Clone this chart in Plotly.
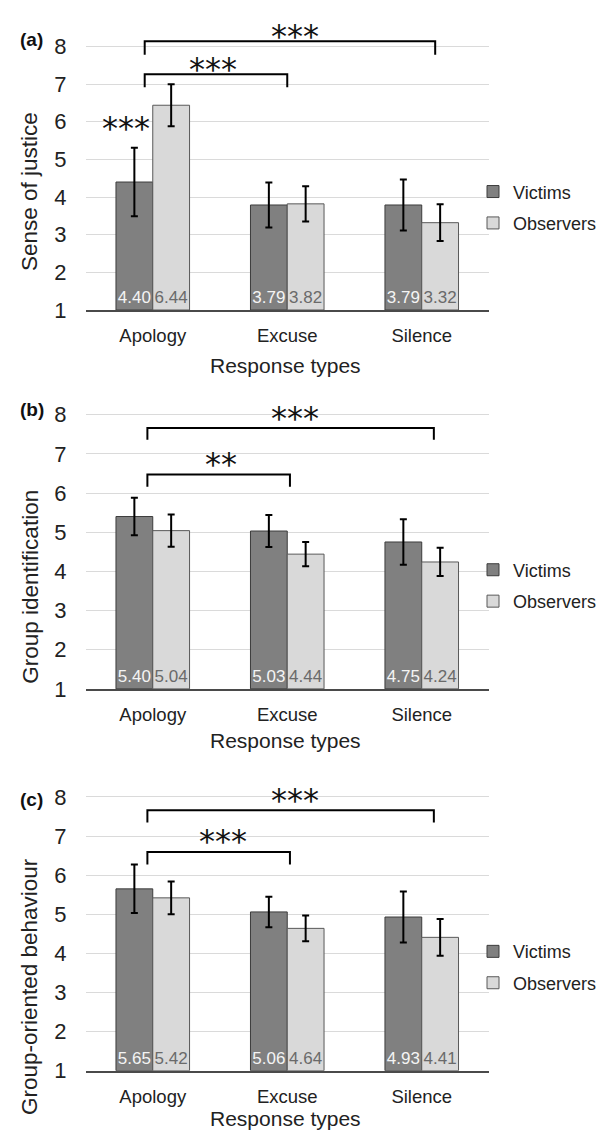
import plotly.graph_objects as go

# ---------------- data ----------------
categories = ["Apology", "Excuse", "Silence"]
groups = ["Victims", "Observers"]

justice_victims = [4.40, 3.79, 3.79]
justice_observers = [6.44, 3.82, 3.32]
justice_victims_err = [0.91, 0.60, 0.68]
justice_observers_err = [0.56, 0.47, 0.49]

ident_victims = [5.40, 5.03, 4.75]
ident_observers = [5.04, 4.44, 4.24]
ident_victims_err = [0.48, 0.41, 0.58]
ident_observers_err = [0.41, 0.31, 0.36]

behav_victims = [5.65, 5.06, 4.93]
behav_observers = [5.42, 4.64, 4.41]
behav_victims_err = [0.62, 0.39, 0.65]
behav_observers_err = [0.42, 0.33, 0.47]

y_titles = ["Sense of justice", "Group identification", "Group-oriented behaviour"]
panel_labels = ["(a)", "(b)", "(c)"]
x_title = "Response types"
y_tick_values = [1, 2, 3, 4, 5, 6, 7, 8]

# significance comparisons per panel: (from category, to category, stars)
sig_a = [("Apology", "Excuse", "***"), ("Apology", "Silence", "***")]
sig_b = [("Apology", "Excuse", "**"), ("Apology", "Silence", "***")]
sig_c = [("Apology", "Excuse", "***"), ("Apology", "Silence", "***")]
# within-category comparison (Victims vs Observers) in panel a
within_a = [("Apology", "***")]

# ---------------- styling / layout ----------------
W, H = 608, 1130
FONT = "Liberation Sans, Arial, sans-serif"
STAR_FONT = "DejaVu Sans, sans-serif"
VIC_FILL, VIC_LINE = "#808080", "#3c3c3c"
OBS_FILL, OBS_LINE = "#d9d9d9", "#595959"

panels = [
    dict(vic=justice_victims, obs=justice_observers, ve=justice_victims_err, oe=justice_observers_err,
         sig=sig_a, within=within_a, ytop=8.5, dom=(0.73274, 0.98257),
         bracket_y=[(7.26, 6.92, 7.60), (8.14, 7.78, 8.47)], lab_x=[0.45, 1.055], xl=-0.06, xr=[1.0, 2.10],
         ytitle_y=0.8378, xtitle_y=0.684, plabel_y=0.9717, legend_y=0.8236),
    dict(vic=ident_victims, obs=ident_observers, ve=ident_victims_err, oe=ident_observers_err,
         sig=sig_b, within=[], ytop=8.15, dom=(0.39743, 0.64531),
         bracket_y=[(6.47, 6.16, 6.92), (7.66, 7.36, 8.09)], lab_x=[0.51, 1.055], xl=-0.04, xr=[1.02, 2.09],
         ytitle_y=0.4876, xtitle_y=0.3515, plabel_y=0.6451, legend_y=0.4889),
    dict(vic=behav_victims, obs=behav_observers, ve=behav_victims_err, oe=behav_observers_err,
         sig=sig_c, within=[], ytop=8.15, dom=(0.05956, 0.30699),
         bracket_y=[(6.59, 6.27, 7.05), (7.66, 7.35, 8.10)], lab_x=[0.52, 1.055], xl=-0.04, xr=[1.02, 2.09],
         ytitle_y=0.1342, xtitle_y=0.0175, plabel_y=0.2994, legend_y=0.1512),
]

fig = go.Figure()
shapes = []
annotations = []
XDOM = (0.1275, 0.7911)

for i, p in enumerate(panels):
    n = "" if i == 0 else str(i + 1)
    xa, ya = "x" + n, "y" + n
    leg = "legend" + n
    for name, vals, errs, fill, line, tcol in [
        (groups[0], p["vic"], p["ve"], VIC_FILL, VIC_LINE, "#f4f4f4"),
        (groups[1], p["obs"], p["oe"], OBS_FILL, OBS_LINE, "#6a6a6a"),
    ]:
        fig.add_trace(go.Bar(
            x=categories, y=[v - 1 for v in vals], base=1, name=name,
            customdata=vals, texttemplate="%{customdata:.2f}",
            textposition="inside", insidetextanchor="start", textangle=0,
            constraintext="none",
            insidetextfont=dict(family=FONT, size=17, color=tcol),
            marker=dict(color=fill, line=dict(color=line, width=1)),
            error_y=dict(type="data", array=errs, color="black", thickness=2, width=3.5),
            xaxis=xa, yaxis=ya, legend=leg, legendgroup=name + n,
            hoverinfo="skip",
        ))
    # axes
    fig.layout["xaxis" + n] = dict(
        domain=list(XDOM), anchor=ya, type="category", categoryorder="array",
        categoryarray=categories, showgrid=False, showline=True, linecolor="#4a4a4a", linewidth=1.5,
        ticks="", tickfont=dict(family=FONT, size=18.5, color="#222"), ticklabelstandoff=8,
        automargin=False, zeroline=False,
    )
    fig.layout["yaxis" + n] = dict(
        domain=list(p["dom"]), anchor=xa, range=[1, p["ytop"]], tickvals=y_tick_values,
        showgrid=True, gridcolor="#dadada", gridwidth=1, zeroline=False, showline=False,
        ticks="", tickfont=dict(family=FONT, size=22, color="#222"), ticklabelstandoff=18,
        automargin=False,
    )
    # legend
    fig.layout[leg] = dict(
        x=465 / W, xanchor="left", y=p["legend_y"], yanchor="middle",
        font=dict(family=FONT, size=18, color="#222"), bgcolor="rgba(0,0,0,0)",
        traceorder="grouped", tracegroupgap=5, itemwidth=30,
    )
    # significance brackets
    for k, (c0, c1, stars) in enumerate(p["sig"]):
        yh, yt, yl = p["bracket_y"][k]
        x0 = categories.index(c0) + p["xl"]
        x1 = p["xr"][k]
        shapes.append(dict(
            type="path", xref=xa, yref=ya,
            path=f"M {x0} {yt} L {x0} {yh} L {x1} {yh} L {x1} {yt}",
            line=dict(color="black", width=2),
        ))
        annotations.append(dict(
            x=p["lab_x"][k], y=yl, xref=xa, yref=ya, text=stars, showarrow=False,
            font=dict(family=STAR_FONT, size=32, color="#111"),
            xanchor="center", yanchor="middle", yshift=-7,
        ))
    for (c, stars) in p["within"]:
        annotations.append(dict(
            x=categories.index(c) - 0.2, y=6.01, xref=xa, yref=ya, text=stars, showarrow=False,
            font=dict(family=STAR_FONT, size=32, color="#111"),
            xanchor="center", yanchor="middle", yshift=-7,
        ))
    # axis titles & panel label
    annotations.append(dict(
        x=21.7 / W, y=p["ytitle_y"], xref="paper", yref="paper", text=y_titles[i],
        textangle=-90, showarrow=False, font=dict(family=FONT, size=22.5, color="#222"),
        xanchor="center", yanchor="middle",
    ))
    annotations.append(dict(
        x=277 / W, y=p["xtitle_y"], xref="paper", yref="paper", text=x_title,
        showarrow=False, font=dict(family=FONT, size=21, color="#222"),
        xanchor="center", yanchor="middle",
    ))
    annotations.append(dict(
        x=10 / W, y=p["plabel_y"], xref="paper", yref="paper", text="<b>" + panel_labels[i] + "</b>",
        showarrow=False, font=dict(family=FONT, size=19, color="#111"),
        xanchor="left", yanchor="middle",
    ))

fig.update_layout(
    width=W, height=H, margin=dict(l=0, r=0, t=0, b=0),
    paper_bgcolor="white", plot_bgcolor="white",
    barmode="group", bargap=0.453, bargroupgap=0,
    shapes=shapes, annotations=annotations, showlegend=True,
    font=dict(family=FONT),
)

fig.write_html("out.html")
